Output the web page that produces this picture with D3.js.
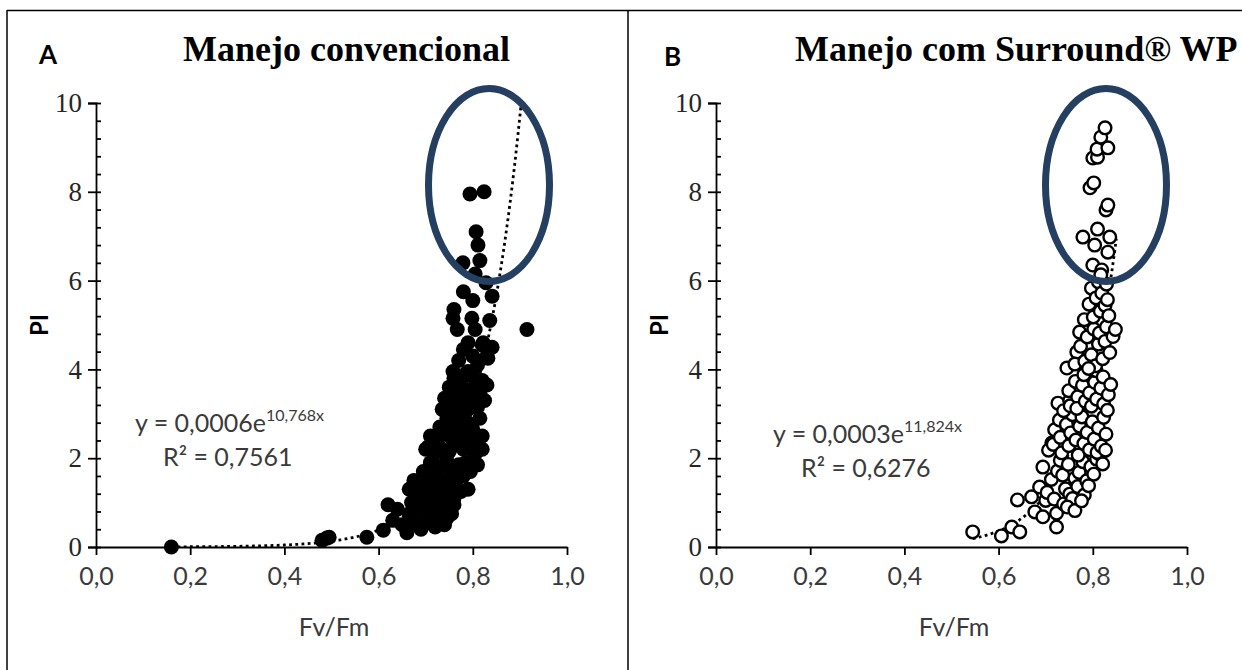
<!DOCTYPE html>
<html>
<head>
<meta charset="utf-8">
<script src="https://cdn.jsdelivr.net/npm/d3@7"></script>
<style>
  body { margin: 0; background: #fff; }
  svg { display: block; }
</style>
</head>
<body>
<svg width="1242" height="670"></svg>
<script>
// panel A - manejo convencional (Fv/Fm, PI)
var dataA = [
  [0.16,0.0],[0.48,0.15],[0.49,0.2],[0.495,0.22],[0.575,0.22],[0.61,0.38],
  [0.62,0.95],[0.63,0.6],[0.64,0.85],[0.65,0.5],[0.66,0.32],[0.665,0.75],[0.67,1.0],[0.675,0.55],
  [0.685,0.9],[0.69,0.4],[0.695,0.7],[0.70,1.0],[0.705,0.55],[0.71,0.8],[0.72,0.45],[0.725,0.95],
  [0.73,0.65],[0.735,0.85],[0.74,0.5],[0.745,0.65],[0.75,0.9],[0.755,0.75],[0.76,0.95],
  [0.665,1.3],[0.675,1.5],[0.68,1.15],[0.69,1.35],[0.695,1.7],[0.70,1.25],[0.705,1.5],[0.71,1.9],
  [0.715,1.1],[0.72,1.6],[0.725,1.35],[0.73,1.8],[0.735,1.15],[0.74,1.5],[0.745,1.95],[0.75,1.3],
  [0.755,1.7],[0.76,1.1],[0.765,1.5],[0.77,1.85],[0.775,1.25],[0.78,1.6],[0.785,1.9],[0.79,1.3],
  [0.795,1.7],[0.80,1.95],[0.81,1.85],
  [0.70,2.2],[0.705,2.25],[0.71,2.5],[0.72,2.1],[0.725,2.4],[0.73,2.7],[0.735,2.2],[0.74,2.55],
  [0.745,2.9],[0.75,2.15],[0.755,2.45],[0.76,2.75],[0.765,2.3],[0.77,2.6],[0.775,2.95],[0.78,2.2],
  [0.785,2.5],[0.79,2.8],[0.795,2.35],[0.80,2.65],[0.805,2.1],[0.81,2.4],[0.815,2.9],[0.82,2.5],[0.82,2.2],
  [0.735,3.1],[0.74,3.35],[0.745,3.2],[0.75,3.6],[0.755,3.3],[0.76,3.8],[0.76,3.05],[0.765,3.5],
  [0.77,3.2],[0.775,3.7],[0.78,3.4],[0.785,3.9],[0.79,3.1],[0.795,3.55],[0.80,3.3],[0.80,3.85],
  [0.805,3.6],[0.81,3.15],[0.815,3.45],[0.82,3.75],[0.825,3.3],[0.83,3.65],
  [0.758,3.95],[0.77,4.2],[0.78,4.45],[0.79,4.6],[0.79,3.95],[0.80,4.3],[0.805,4.9],[0.81,4.1],
  [0.82,4.55],[0.822,4.6],[0.83,4.3],[0.832,4.25],[0.841,4.5],[0.836,5.1],[0.758,5.15],[0.76,5.35],
  [0.767,4.9],[0.798,5.15],[0.80,5.55],[0.78,5.75],[0.841,5.65],[0.915,4.9],
  [0.805,6.15],[0.828,5.95],[0.779,6.4],[0.815,6.45],[0.811,6.8],[0.807,7.1],[0.794,7.95],[0.824,8.0]
];

// panel B - manejo com Surround WP
var dataB = [
  [0.545,0.34],[0.606,0.25],[0.628,0.45],[0.645,0.34],[0.64,1.06],[0.67,1.13],[0.677,0.79],
  [0.694,0.68],[0.687,1.35],[0.694,1.8],[0.723,0.45],[0.723,0.76],[0.713,2.34],[0.726,3.24],
  [0.751,3.3],[0.745,4.03],[0.766,4.39],[0.772,4.84],
  [0.70,1.05],[0.712,1.52],[0.703,1.23],[0.725,1.71],[0.718,1.08],[0.731,1.95],[0.742,1.31],
  [0.738,0.97],[0.736,1.62],[0.751,1.19],[0.748,1.86],[0.762,1.55],[0.757,1.09],[0.771,1.68],
  [0.768,1.36],[0.779,1.92],[0.787,1.49],[0.782,1.17],[0.796,1.81],[0.791,1.38],[0.808,1.98],
  [0.802,1.64],[0.816,2.08],[0.746,0.9],[0.762,0.82],[0.776,1.04],
  [0.706,2.18],[0.719,2.64],[0.716,2.31],[0.729,2.86],[0.734,2.12],[0.731,2.47],[0.744,2.76],
  [0.749,2.28],[0.753,2.57],[0.757,2.98],[0.764,2.41],[0.769,2.07],[0.772,2.72],[0.781,2.33],
  [0.777,2.93],[0.788,2.58],[0.793,2.19],[0.799,2.82],[0.803,2.43],[0.809,2.13],[0.812,2.68],
  [0.818,2.27],[0.823,2.92],[0.828,2.54],[0.827,2.18],[0.821,1.87],
  [0.738,3.07],[0.749,3.52],[0.752,3.18],[0.763,3.73],[0.768,3.38],[0.766,3.12],[0.778,3.64],
  [0.784,3.28],[0.781,3.88],[0.793,3.47],[0.797,3.17],[0.804,3.71],[0.808,3.33],[0.807,3.97],
  [0.817,3.58],[0.823,3.22],[0.822,3.83],[0.833,3.43],[0.831,3.08],[0.838,3.66],
  [0.762,4.12],[0.774,4.52],[0.783,4.18],[0.788,4.73],[0.797,4.33],[0.802,4.91],[0.806,4.08],
  [0.812,4.57],[0.814,4.82],[0.821,4.24],[0.826,4.63],[0.829,4.96],[0.836,4.38],[0.843,4.74],
  [0.848,4.9],[0.791,4.02],
  [0.782,5.12],[0.792,5.47],[0.797,5.83],[0.801,5.18],[0.807,5.61],[0.812,5.97],[0.816,5.31],
  [0.819,5.72],[0.826,5.44],[0.829,5.92],[0.834,5.21],[0.831,5.57],
  [0.80,6.35],[0.819,6.24],[0.817,6.13],[0.832,6.64],[0.804,6.8],[0.779,6.98],[0.81,7.16],
  [0.836,6.98],[0.828,7.59],[0.832,7.7],
  [0.794,8.09],[0.802,8.2],[0.80,8.76],[0.81,8.78],[0.809,8.96],[0.832,8.99],[0.817,9.23],[0.826,9.44]
];

// trend lines y = a*e^(b*x), over the x range of each series
var fitA = {a: 0.0006, b: 10.768, from: 0.16, to: 0.915};
var fitB = {a: 0.0003, b: 11.824, from: 0.545, to: 0.85};

var xTicks = [0, 0.2, 0.4, 0.6, 0.8, 1.0];
var yTicks = [0, 2, 4, 6, 8, 10];
var yMinor = d3.range(0, 10.01, 0.4);

var fmt = d3.formatLocale({decimal: ",", thousands: ".", grouping: [3], currency: ["", ""]}).format(".1f");

var svg = d3.select('svg');
svg.append('rect').attr('width', 1242).attr('height', 670).attr('fill', '#fff');

// table borders
svg.append('line').attr('x1', 7).attr('y1', 10.5).attr('x2', 1242).attr('y2', 10.5).attr('stroke', '#000').attr('stroke-width', 1.5);
svg.append('line').attr('x1', 7).attr('y1', 10).attr('x2', 7).attr('y2', 670).attr('stroke', '#000').attr('stroke-width', 1.5);
svg.append('line').attr('x1', 628).attr('y1', 10).attr('x2', 628).attr('y2', 670).attr('stroke', '#000').attr('stroke-width', 1.5);

function panel(opt) {
  var x = d3.scaleLinear().domain([0, 1]).range([opt.x0, opt.x0 + 471]);
  var y = d3.scaleLinear().domain([0, 10]).range([547, 103]);
  var g = svg.append('g');

  // letter and title
  g.append('text').attr('x', opt.letterX).attr('y', opt.letterY).text(opt.letter)
    .attr('font-family', 'Lato, sans-serif').attr('font-weight', 'bold').attr('font-size', 26).attr('fill', '#000');
  g.append('text').attr('x', opt.titleX).attr('y', 61).text(opt.title)
    .attr('font-family', '"Liberation Serif", serif').attr('font-weight', 'bold').attr('font-size', 36).attr('fill', '#000');

  // y axis: major ticks outside, 0.4 ticks inside
  var ya = g.append('g').attr('transform', 'translate(' + opt.x0 + ',0)')
    .call(d3.axisLeft(y).tickValues(yTicks).tickSize(8).tickPadding(6).tickFormat(d3.format('d')));
  ya.attr('font-family', null).attr('font-size', null);
  ya.selectAll('text').style('font-family', '"Liberation Serif", serif').style('font-size', '27px').attr('fill', '#262626');
  var ym = g.append('g').attr('transform', 'translate(' + opt.x0 + ',0)')
    .call(d3.axisRight(y).tickValues(yMinor).tickSize(5).tickFormat(''));
  ym.select('.domain').remove();

  // x axis
  var xa = g.append('g').attr('transform', 'translate(0,547)')
    .call(d3.axisBottom(x).tickValues(xTicks).tickSize(8).tickSizeOuter(0).tickPadding(12).tickFormat(fmt));
  xa.selectAll('text').style('font-family', 'Lato, sans-serif').style('font-size', '25px').attr('fill', '#3a3a3a');

  g.selectAll('.domain, .tick line').attr('stroke', '#000').attr('stroke-width', 1.8);

  // axis titles
  g.append('text').attr('x', opt.x0 + 238).attr('y', 636).attr('text-anchor', 'middle').text('Fv/Fm')
    .attr('font-family', 'Lato, sans-serif').attr('font-size', 25).attr('fill', '#3a3a3a');
  g.append('text').attr('transform', 'translate(' + (opt.x0 - 48) + ',325) rotate(-90)').attr('text-anchor', 'middle').text('PI')
    .attr('font-family', 'Lato, sans-serif').attr('font-weight', 'bold').attr('font-size', 24).attr('fill', '#000');

  // trend line, clipped to the plot area
  var clipId = 'clip' + opt.letter;
  g.append('clipPath').attr('id', clipId).append('rect')
    .attr('x', opt.x0).attr('y', 103).attr('width', 471).attr('height', 444);
  var fx = d3.range(opt.fit.from, opt.fit.to + 0.0001, 0.005);
  var line = d3.line().x(function (d) { return x(d); }).y(function (d) { return y(opt.fit.a * Math.exp(opt.fit.b * d)); });
  g.append('path').datum(fx).attr('d', line).attr('clip-path', 'url(#' + clipId + ')')
    .attr('fill', 'none').attr('stroke', '#000').attr('stroke-width', 2.8).attr('stroke-dasharray', '2.8,3.4');

  // points
  g.selectAll('circle.pt').data(opt.data).enter().append('circle').attr('class', 'pt')
    .attr('cx', function (d) { return x(d[0]); })
    .attr('cy', function (d) { return y(d[1]); })
    .attr('r', opt.filled ? 7.5 : 6.3)
    .attr('fill', opt.filled ? '#000' : '#fff')
    .attr('stroke', '#000').attr('stroke-width', opt.filled ? 0 : 2.4);

  // equation
  var eq = g.append('text').attr('x', opt.eqX).attr('y', opt.eqY)
    .attr('font-family', 'Lato, sans-serif').attr('font-size', 25).attr('fill', '#3a3a3a');
  eq.append('tspan').text(opt.eq1);
  eq.append('tspan').attr('dy', -11).attr('font-size', 16).text(opt.eqExp);
  g.append('text').attr('x', opt.eqX + 28).attr('y', opt.eqY + 34).text(opt.eq2)
    .attr('font-family', 'Lato, sans-serif').attr('font-size', 25).attr('fill', '#3a3a3a');

  // highlight ellipse
  g.append('ellipse').attr('cx', opt.ell[0]).attr('cy', opt.ell[1]).attr('rx', 60.5).attr('ry', 96.5)
    .attr('fill', 'none').attr('stroke', '#243f60').attr('stroke-width', 7);
}

panel({
  letter: 'A', letterX: 39, letterY: 64, title: 'Manejo convencional', titleX: 183,
  x0: 96, data: dataA, filled: true, fit: fitA,
  eq1: 'y = 0,0006e', eqExp: '10,768x', eq2: 'R² = 0,7561', eqX: 135, eqY: 432,
  ell: [489, 185]
});

panel({
  letter: 'B', letterX: 664, letterY: 66, title: 'Manejo com Surround® WP', titleX: 795,
  x0: 716, data: dataB, filled: false, fit: fitB,
  eq1: 'y = 0,0003e', eqExp: '11,824x', eq2: 'R² = 0,6276', eqX: 773, eqY: 443,
  ell: [1106, 185]
});
</script>
</body>
</html>
